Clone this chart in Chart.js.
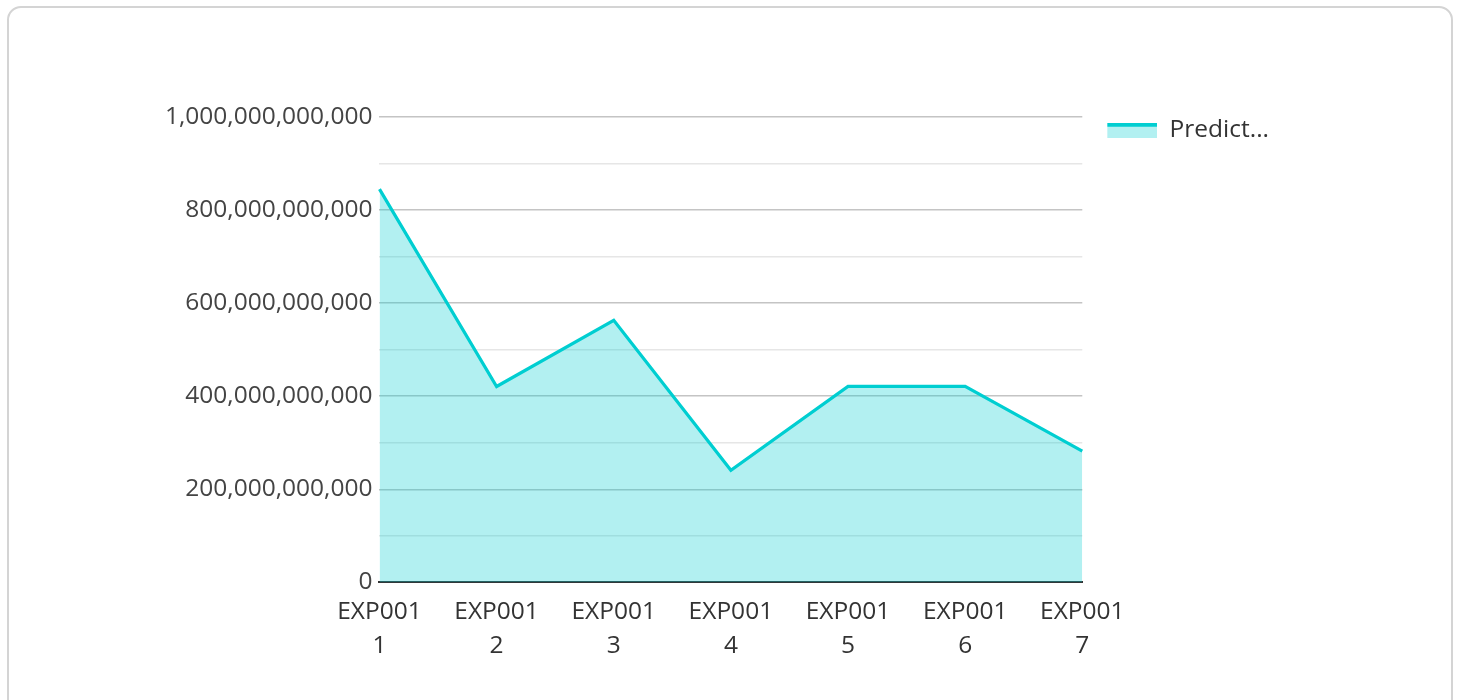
<!DOCTYPE html>
<html>
<head>
<meta charset="utf-8">
<script src="https://cdn.jsdelivr.net/npm/chart.js@4"></script>
<style>
    html, body { margin: 0; padding: 0; background: #fff; }
    body { width: 1458px; height: 700px; position: relative; overflow: hidden; font-family: 'Open Sans', sans-serif; }
    .card { position: absolute; left: 7px; top: 6px; width: 1446px; height: 720px; border: 2px solid #d4d4d4; border-radius: 14px; box-sizing: border-box; }
    .wrap { position: absolute; left: 0; top: 0; width: 1458px; height: 700px; }
</style>
</head>
<body>
<div class="card"></div>
<div class="wrap"><canvas id="chart" width="1458" height="700"></canvas></div>
<script>
const labels = [['EXP001', '1'], ['EXP001', '2'], ['EXP001', '3'], ['EXP001', '4'], ['EXP001', '5'], ['EXP001', '6'], ['EXP001', '7']];
const predicted = [845e9, 421e9, 563e9, 241e9, 421e9, 421e9, 282e9];
const seriesName = 'Predict...';
const yMax = 1e12;
const yStep = 1e11;

const LINE = 'rgb(0, 206, 209)';
const FILL = 'rgba(0, 206, 209, 0.3)';

// legend swatch: thick line on top, translucent fill under it
// (left margin in the image gives the gap between plot and legend)
const SW_GAP = 24, SW_W = 50, SW_H = 15;
const swatch = document.createElement('canvas');
swatch.width = SW_GAP + SW_W; swatch.height = SW_H;
const sctx = swatch.getContext('2d');
sctx.fillStyle = FILL; sctx.fillRect(SW_GAP, 0, SW_W, SW_H);
sctx.fillStyle = LINE; sctx.fillRect(SW_GAP, 0, SW_W, 4);

Chart.defaults.font.family = "'Open Sans', sans-serif";

new Chart(document.getElementById('chart'), {
    type: 'line',
    data: {
        labels,
        datasets: [{
            label: seriesName,
            data: predicted,
            borderColor: LINE,
            backgroundColor: FILL,
            borderWidth: 3.2,
            fill: 'origin',
            tension: 0,
            pointRadius: 0,
            pointHoverRadius: 0,
            pointStyle: swatch
        }]
    },
    options: {
        responsive: false,
        animation: false,
        layout: { padding: { left: 158, top: 117, right: 179, bottom: 33 } },
        plugins: {
            tooltip: { enabled: false },
            legend: {
                position: 'right',
                align: 'start',
                labels: {
                    usePointStyle: true,
                    pointStyleWidth: SW_GAP + SW_W,
                    font: { size: 24.5 },
                    color: '#333',
                    padding: 1
                }
            }
        },
        scales: {
            x: {
                offset: false,
                grid: { display: false },
                border: { display: true, color: '#333', width: 2 },
                ticks: { color: '#333', font: { size: 24.5, lineHeight: 1.4 }, maxRotation: 0, autoSkip: false, padding: 4 }
            },
            y: {
                min: 0,
                max: yMax,
                border: { display: false },
                grid: {
                    drawTicks: false,
                    color: ctx => {
                        const k = Math.round(ctx.tick.value / yStep);
                        if (k === 0) return '#333';
                        return k % 2 === 0 ? '#c4c4c4' : '#e6e6e6';
                    },
                    lineWidth: ctx => ctx.tick.value === 0 ? 2 : 1.5
                },
                ticks: {
                    stepSize: yStep,
                    color: '#444',
                    font: { size: 24.5 },
                    padding: 7,
                    callback: v => Math.round(v / yStep) % 2 === 0 ? v.toLocaleString('en-US') : ''
                }
            }
        }
    }
});
</script>
</body>
</html>
